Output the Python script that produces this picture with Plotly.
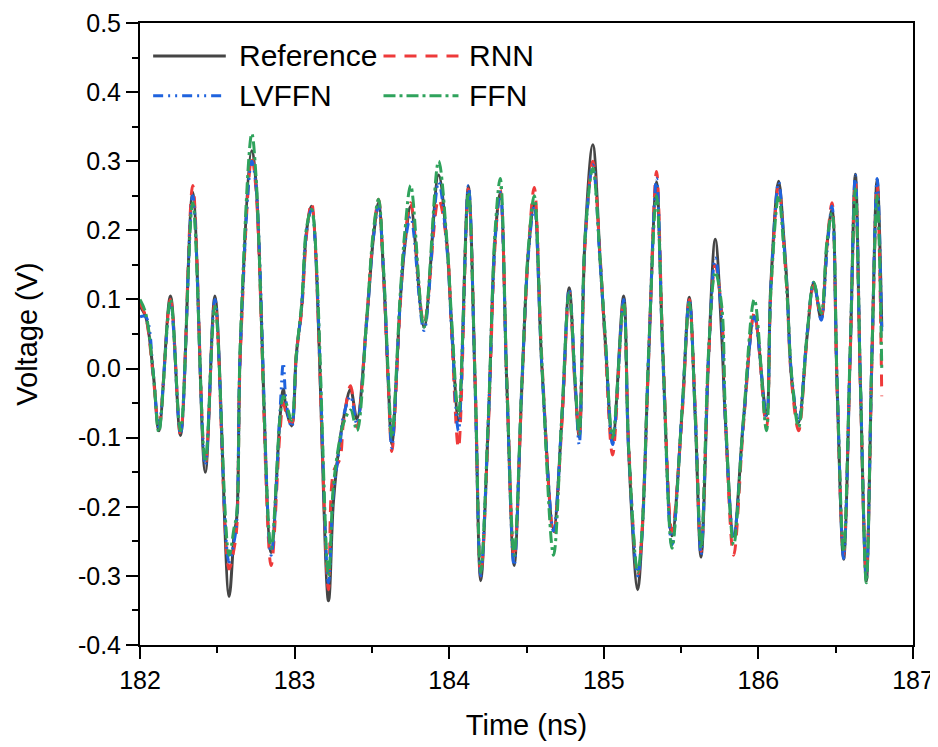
import plotly.graph_objects as go

# ---------------- data ----------------
time_ns = [
    182.000, 182.037, 182.087, 182.122, 182.197, 182.262, 182.341, 182.422, 182.485, 182.576,
    182.609, 182.626, 182.649, 182.723, 182.750, 182.848, 182.906, 182.927, 182.946, 182.981,
    183.011, 183.046, 183.078, 183.110, 183.219, 183.251, 183.294, 183.315, 183.362, 183.403,
    183.467, 183.510, 183.543, 183.574, 183.607, 183.629, 183.684, 183.714, 183.751, 183.837,
    183.931, 183.985, 184.016, 184.060, 184.124, 184.168, 184.204, 184.254, 184.297, 184.330,
    184.373, 184.420, 184.470, 184.512, 184.550, 184.600, 184.675, 184.729, 184.776, 184.815,
    184.841, 184.879, 184.929, 184.977, 185.010, 185.057, 185.128, 185.161, 185.219, 185.246,
    185.291, 185.341, 185.382, 185.441, 185.506, 185.553, 185.592, 185.629, 185.679, 185.721,
    185.763, 185.786, 185.840, 185.904, 185.974, 186.052, 186.080, 186.131, 186.164, 186.185,
    186.215, 186.260, 186.315, 186.358, 186.406, 186.444, 186.476, 186.509, 186.551, 186.594,
    186.627, 186.660, 186.698, 186.735, 186.768, 186.798,
]

reference_v = [
    0.090, 0.075, -0.010, -0.090, 0.105, -0.097, 0.255, -0.150, 0.105, -0.330,
    -0.240, -0.215, 0.030, 0.315, 0.270, -0.266, -0.070, -0.030, -0.060, -0.083,
    0.020, 0.090, 0.200, 0.235, -0.336, -0.193, -0.102, -0.074, -0.030, -0.073,
    0.071, 0.190, 0.240, 0.143, -0.025, -0.110, 0.100, 0.180, 0.235, 0.060,
    0.280, 0.180, 0.060, -0.075, 0.264, -0.025, -0.307, -0.073, 0.190, 0.254,
    -0.025, -0.285, -0.025, 0.168, 0.237, 0.000, -0.232, -0.073, 0.117, -0.025,
    -0.100, 0.190, 0.324, 0.154, 0.038, -0.105, 0.105, -0.121, -0.320, -0.247,
    0.023, 0.270, 0.020, -0.242, -0.064, 0.103, -0.073, -0.273, 0.023, 0.187,
    0.047, -0.073, -0.242, -0.073, 0.076, -0.068, 0.120, 0.271, 0.190, 0.120,
    -0.015, -0.078, 0.047, 0.124, 0.071, 0.180, 0.230, -0.025, -0.276, 0.023,
    0.281, -0.025, -0.307, 0.023, 0.274, 0.060,
]

rnn_v = [
    0.095, 0.075, -0.015, -0.085, 0.100, -0.095, 0.265, -0.140, 0.095, -0.290,
    -0.260, -0.230, 0.020, 0.305, 0.260, -0.285, -0.090, -0.050, -0.065, -0.080,
    0.020, 0.085, 0.195, 0.240, -0.320, -0.150, -0.130, -0.080, -0.025, -0.085,
    0.075, 0.195, 0.245, 0.140, -0.030, -0.120, 0.095, 0.190, 0.240, 0.065,
    0.245, 0.180, 0.050, -0.115, 0.260, -0.020, -0.300, -0.080, 0.180, 0.260,
    -0.020, -0.275, -0.030, 0.170, 0.262, 0.010, -0.240, -0.080, 0.110, -0.030,
    -0.095, 0.180, 0.300, 0.160, 0.030, -0.125, 0.100, -0.110, -0.300, -0.240,
    0.020, 0.285, 0.030, -0.235, -0.070, 0.100, -0.060, -0.265, 0.020, 0.150,
    0.080, -0.070, -0.270, -0.080, 0.080, -0.085, 0.110, 0.265, 0.180, 0.110,
    -0.020, -0.090, 0.045, 0.120, 0.075, 0.180, 0.240, -0.030, -0.270, 0.020,
    0.270, -0.030, -0.295, 0.020, 0.265, -0.040,
]

lvffn_v = [
    0.075, 0.075, -0.010, -0.085, 0.095, -0.095, 0.250, -0.140, 0.100, -0.280,
    -0.250, -0.220, 0.030, 0.300, 0.265, -0.270, -0.060, 0.008, -0.050, -0.085,
    0.015, 0.090, 0.200, 0.230, -0.310, -0.180, -0.110, -0.070, -0.040, -0.080,
    0.070, 0.190, 0.235, 0.145, -0.020, -0.115, 0.100, 0.180, 0.220, 0.055,
    0.270, 0.175, 0.055, -0.090, 0.265, -0.030, -0.300, -0.070, 0.185, 0.255,
    -0.030, -0.285, -0.025, 0.165, 0.235, 0.000, -0.235, -0.070, 0.115, -0.020,
    -0.110, 0.185, 0.295, 0.150, 0.040, -0.110, 0.100, -0.120, -0.300, -0.245,
    0.025, 0.275, 0.015, -0.255, -0.060, 0.100, -0.070, -0.270, 0.025, 0.160,
    0.070, -0.075, -0.245, -0.075, 0.075, -0.070, 0.115, 0.270, 0.185, 0.115,
    -0.010, -0.075, 0.050, 0.125, 0.070, 0.170, 0.235, -0.020, -0.275, 0.025,
    0.280, -0.020, -0.300, 0.025, 0.275, 0.050,
]

ffn_v = [
    0.100, 0.080, -0.010, -0.092, 0.100, -0.090, 0.240, -0.135, 0.090, -0.270,
    -0.230, -0.210, 0.040, 0.340, 0.280, -0.260, -0.070, -0.040, -0.050, -0.075,
    0.020, 0.095, 0.205, 0.230, -0.300, -0.170, -0.100, -0.080, -0.060, -0.090,
    0.075, 0.200, 0.245, 0.150, -0.015, -0.100, 0.110, 0.200, 0.265, 0.060,
    0.300, 0.185, 0.070, -0.065, 0.255, -0.020, -0.295, -0.065, 0.200, 0.275,
    -0.020, -0.270, -0.020, 0.175, 0.250, 0.005, -0.270, -0.065, 0.110, -0.020,
    -0.095, 0.190, 0.290, 0.155, 0.045, -0.100, 0.095, -0.115, -0.295, -0.240,
    0.030, 0.250, 0.025, -0.260, -0.060, 0.095, -0.070, -0.260, 0.030, 0.140,
    0.090, -0.060, -0.255, -0.070, 0.100, -0.090, 0.110, 0.250, 0.175, 0.110,
    -0.010, -0.085, 0.050, 0.125, 0.080, 0.185, 0.225, -0.020, -0.265, 0.030,
    0.260, -0.020, -0.310, 0.030, 0.250, 0.000,
]

series_names = ["Reference", "RNN", "LVFFN", "FFN"]
x_tick_vals = [182, 183, 184, 185, 186, 187]
x_tick_text = ["182", "183", "184", "185", "186", "187"]
y_tick_vals = [-0.4, -0.3, -0.2, -0.1, 0.0, 0.1, 0.2, 0.3, 0.4, 0.5]
y_tick_text = ["-0.4", "-0.3", "-0.2", "-0.1", "0.0", "0.1", "0.2", "0.3", "0.4", "0.5"]

# ---------------- styling ----------------
FONT = "Arial, 'Liberation Sans', sans-serif"
colors = ["#454545", "#EE3A3A", "#1F63DE", "#2FA35C"]
dashes = ["solid", "12px,9px", "10px,5px,2px,5px,2px,5px", "12px,4px,3px,4px"]
values = [reference_v, rnn_v, lvffn_v, ffn_v]

fig = go.Figure()
for name, vals, col, dsh in zip(series_names, values, colors, dashes):
    fig.add_trace(go.Scatter(
        x=time_ns, y=vals, mode="lines", name=name, showlegend=False,
        line=dict(color=col, width=3, dash=dsh, shape="spline", smoothing=1.0),
    ))

# legend drawn as lines + labels (two columns, like the original)
leg_pos = [  # (line x0, line x1, text x, y) in paper coords
    (0.017, 0.111, 0.126, 0.947),
    (0.315, 0.412, 0.423, 0.947),
    (0.017, 0.111, 0.126, 0.883),
    (0.315, 0.412, 0.423, 0.883),
]
for (x0, x1, xt, yy), name, col, dsh in zip(leg_pos, series_names, colors, dashes):
    fig.add_shape(type="line", xref="paper", yref="paper", x0=x0, x1=x1, y0=yy, y1=yy,
                  line=dict(color=col, width=3, dash=dsh))
    fig.add_annotation(xref="paper", yref="paper", x=xt, y=yy, text=name, showarrow=False,
                       xanchor="left", yanchor="middle",
                       font=dict(family=FONT, size=30, color="black"))

axis_common = dict(
    showline=True, linecolor="black", linewidth=2, mirror=True,
    ticks="outside", ticklen=12, tickwidth=2, tickcolor="black",
    showgrid=False, zeroline=False, ticklabeloverflow="allow",
    tickfont=dict(family=FONT, size=25, color="black"),
)

fig.update_xaxes(
    range=[182, 187], tickvals=x_tick_vals, ticktext=x_tick_text,
    minor=dict(ticks="outside", ticklen=6, tickwidth=2, tickcolor="black", dtick=0.5, tick0=182),
    title=dict(text="Time (ns)", font=dict(family=FONT, size=29, color="black"), standoff=22),
    **axis_common,
)
fig.update_yaxes(
    range=[-0.4, 0.5], tickvals=y_tick_vals, ticktext=y_tick_text,
    minor=dict(ticks="outside", ticklen=6, tickwidth=2, tickcolor="black", dtick=0.05, tick0=0),
    title=dict(text="Voltage (V)", font=dict(family=FONT, size=29, color="black"), standoff=32),
    **axis_common,
)

# the page adds an 8px body margin, so the figure is sized/offset to compensate
fig.update_layout(
    width=930, height=739,
    margin=dict(l=132, r=25, t=15, b=102, autoexpand=False),
    paper_bgcolor="white", plot_bgcolor="white",
    font=dict(family=FONT, color="black"),
)

fig.write_html("out.html")
